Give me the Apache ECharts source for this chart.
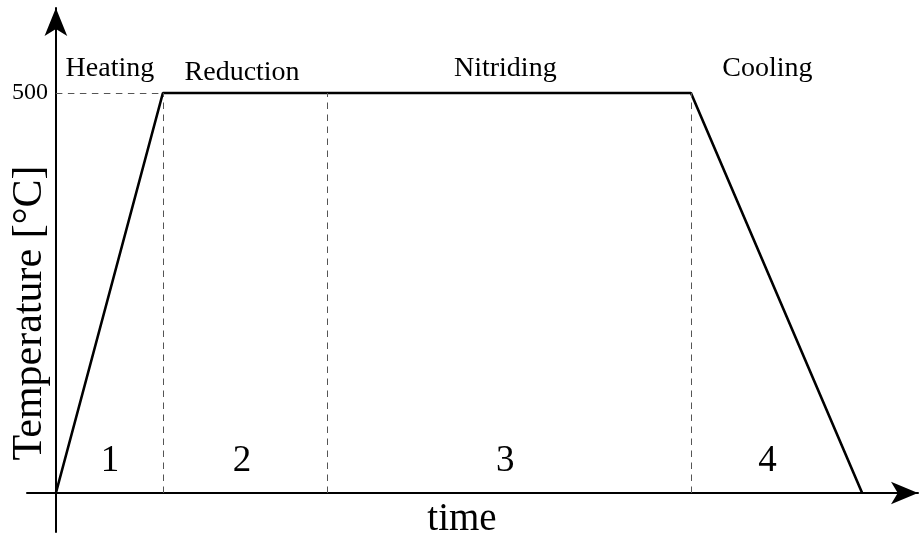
<!DOCTYPE html>
<html>
<head>
<meta charset="utf-8">
<script src="https://cdn.jsdelivr.net/npm/echarts@6/dist/echarts.min.js"></script>
<style>html,body{margin:0;padding:0;background:#fff}#c{width:920px;height:538px}</style>
</head>
<body>
<div id="c"></div>
<script>
// ---- data ----
const timePoints = [0, 20, 118.7, 150.7];
const temperatures = [0, 500, 500, 0];
const plateauTemp = 500;
const phaseBoundaries = [20, 50.65, 118.7];
const phaseNames = ['Heating', 'Reduction', 'Nitriding', 'Cooling'];
const phaseNumbers = ['1', '2', '3', '4'];
const phaseCenters = [10.1, 34.8, 84, 133];
const yTickLabels = [500];
const xAxisTitle = 'time';
const yAxisTitle = 'Temperature [°C]';

// ---- layout ----
const nameRowY = [530, 526, 530, 530];
const numberRowY = 40;
const FONT = 'Liberation Serif';

const chart = echarts.init(document.getElementById('c'));

const profile = timePoints.map((t, i) => [t, temperatures[i]]);
const dashLines = [[{coord: [0, plateauTemp]}, {coord: [phaseBoundaries[0], plateauTemp]}]]
  .concat(phaseBoundaries.map(b => [{coord: [b, 0]}, {coord: [b, plateauTemp]}]));

const labelSeries = (texts, ys, size) => ({
  type: 'scatter', symbolSize: 0, silent: true,
  itemStyle: {opacity: 1},
  emphasis: {disabled: true},
  data: phaseCenters.map((x, i) => ({value: [x, Array.isArray(ys) ? ys[i] : ys], name: texts[i]})),
  label: {show: true, position: 'inside', formatter: p => p.name, color: '#000', opacity: 1, fontFamily: FONT, fontSize: size}
});

chart.setOption({
  animation: false,
  grid: {left: 27, right: 2, top: 8, bottom: 6, containLabel: false, outerBoundsMode: 'none'},
  xAxis: {
    type: 'value', min: -5.4, max: 161.14,
    axisLine: {onZero: true, lineStyle: {color: '#000', width: 2}, symbol: ['none', 'arrow'], symbolSize: [17, 27]},
    axisTick: {show: false}, axisLabel: {show: false}, splitLine: {show: false}
  },
  yAxis: {
    type: 'value', min: -48.75, max: 606.25,
    axisLine: {onZero: true, lineStyle: {color: '#000', width: 2}, symbol: ['none', 'arrow'], symbolSize: [17, 28]},
    axisTick: {show: false},
    axisLabel: {customValues: yTickLabels, color: '#000', fontFamily: FONT, fontSize: 24, margin: -21},
    splitLine: {show: false}
  },
  series: [
    {
      type: 'line', data: profile, symbol: 'none', silent: true,
      lineStyle: {color: '#000', width: 2.6},
      markLine: {
        silent: true, symbol: ['none', 'none'], label: {show: false},
        lineStyle: {color: '#555', width: 1, type: [6.5, 5.5]},
        data: dashLines
      },
      z: 3
    },
    labelSeries(phaseNames, nameRowY, 28),
    labelSeries(phaseNumbers, numberRowY, 37)
  ],
  graphic: [
    {type: 'text', x: 462, y: 520, style: {text: xAxisTitle, fontFamily: FONT, fontSize: 39, fill: '#000', align: 'center', verticalAlign: 'middle'}},
    {type: 'text', x: 30, y: 313, rotation: Math.PI / 2, style: {text: yAxisTitle, fontFamily: FONT, fontSize: 42, fill: '#000', align: 'center', verticalAlign: 'middle'}}
  ]
});
</script>
</body>
</html>
